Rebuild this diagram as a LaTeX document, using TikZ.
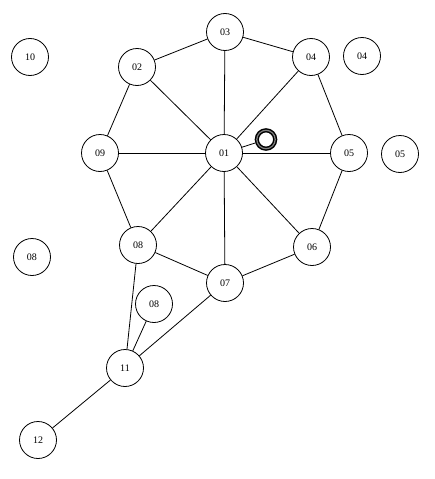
\documentclass[tikz,border=0pt]{standalone}
\usepackage{fontspec}
\setmainfont{Liberation Serif}
\begin{document}
\begin{tikzpicture}[x=1pt,y=-1pt,
  vnode/.style={circle,draw,line width=0.8pt,minimum size=37pt,inner sep=0pt,font=\fontsize{10}{11}\selectfont,fill=white},
  edge/.style={line width=0.8pt}]
\useasboundingbox (0,0) rectangle (434,479);
\coordinate (ringc) at (266,139.5);
\node[vnode] (n03) at (225,32) {03};
\node[vnode] (n02) at (137,67) {02};
\node[vnode] (n04) at (311,57) {04};
\node[vnode] (n09) at (100,153) {09};
\node[vnode] (n01) at (224,153) {01};
\node[vnode] (n05) at (349,153) {05};
\node[vnode] (n08) at (138,245) {08};
\node[vnode] (n06) at (312,247) {06};
\node[vnode] (n07) at (225,283) {07};
\node[vnode] (n08b) at (154,304) {08};
\node[vnode] (n11) at (125,368) {11};
\node[vnode] (n12) at (38,440) {12};
\node[vnode] (n10) at (30,57) {10};
\node[vnode] (n04b) at (362,56) {04};
\node[vnode] (n05b) at (400,154) {05};
\node[vnode] (n08c) at (32,257) {08};
\node[circle,minimum size=23pt,inner sep=0pt] (ring) at (ringc) {};
\draw[line width=4.2pt] (ringc) circle (9.2);
\draw[gray,line width=1.2pt] (ringc) circle (9.2);
\foreach \a/\b in {n03/n02,n03/n04,n03/n01,n02/n09,n02/n01,n04/n05,n04/n01,n09/n01,n09/n08,n05/n01,n05/n06,n01/n08,n01/n07,n01/n06,n06/n07,n08/n07,n08/n11,n07/n11,n08b/n11,n11/n12,n01/ring}
  \draw[edge] (\a) -- (\b);
\end{tikzpicture}
\end{document}
